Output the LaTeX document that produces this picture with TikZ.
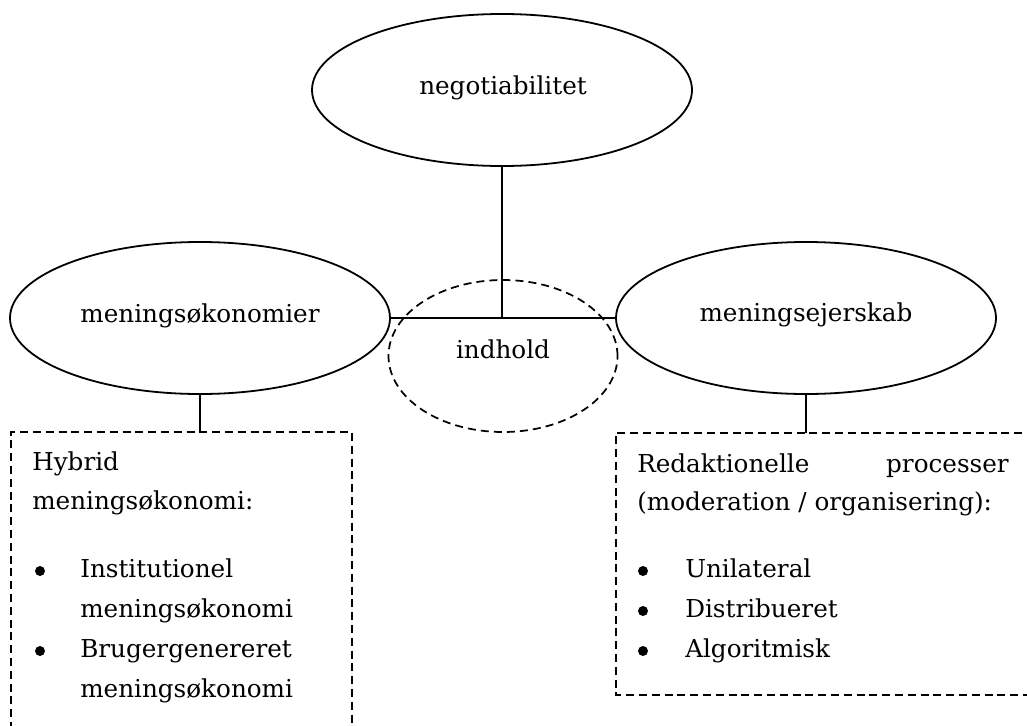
\documentclass[tikz,border=0pt]{standalone}
\usepackage{fontspec}
\setmainfont{DejaVu Serif}
\usetikzlibrary{shapes.geometric}
\tikzset{
  oval/.style={ellipse, draw, line width=1.35pt, inner sep=0pt, minimum width=285pt, minimum height=114pt},
  dashoval/.style={ellipse, draw, line width=1.3pt, inner sep=0pt, dash pattern=on 6pt off 3.8pt, minimum width=171.75pt, minimum height=114pt},
  conn/.style={line width=1.35pt},
  dbox/.style={line width=1.4pt, dash pattern=on 6pt off 3.6pt},
  lbl/.style={anchor=base, inner sep=0pt, font=\fontsize{18.5}{22}\selectfont},
  txt/.style={anchor=base west, inner sep=0pt, font=\fontsize{18.5}{22}\selectfont},
  txtr/.style={anchor=base east, inner sep=0pt, font=\fontsize{18.5}{22}\selectfont},
}
\begin{document}
\begin{tikzpicture}[x=0.75pt,y=-0.75pt]
\useasboundingbox (0,0) rectangle (1027,725);
% ellipses
\node[oval] (top) at (502,90) {};
\node[oval] (left) at (200,318) {};
\node[oval] (right) at (806,318) {};
\node[dashoval] (ind) at (503,356) {};
\node[lbl] (ttop) at (503,94) {negotiabilitet};
\node[lbl] (tleft) at (200,322) {meningsøkonomier};
\node[lbl] (tright) at (806,321) {meningsejerskab};
\node[lbl] (tind) at (503,358) {indhold};
% connectors
\coordinate (junc) at (502,318);
\draw[conn] (left.east) -- (right.west);
\draw[conn] (top.south) -- (junc);
% boxes
\coordinate (lbtop) at (200,432);
\coordinate (rbtop) at (806,433);
\draw[dbox] (11,730) -- (11,432) -- (352,432) -- (352,730);
\draw[dbox] (1035,433) -- (616,433) -- (616,695) -- (1035,695);
\draw[conn] (left.south) -- (lbtop);
\draw[conn] (right.south) -- (rbtop);
% left box text
\node[txt] (h1) at (32,470) {Hybrid};
\node[txt] (h2) at (32,509) {meningsøkonomi:};
\node[txt] (l1) at (80,577) {Institutionel};
\node[txt] (l2) at (80,617) {meningsøkonomi};
\node[txt] (l3) at (80,657) {Brugergenereret};
\node[txt] (l4) at (80,697) {meningsøkonomi};
\fill (40,571) circle (5);
\fill (40,651) circle (5);
% right box text
\node[txt] (r1a) at (637,472) {Redaktionelle};
\node[txtr] (r1b) at (1009,472) {processer};
\node[txt] (r2) at (637,510) {(moderation / organisering):};
\node[txt] (r3) at (685,577) {Unilateral};
\node[txt] (r4) at (685,617) {Distribueret};
\node[txt] (r5) at (685,657) {Algoritmisk};
\fill (643,571) circle (5);
\fill (643,611) circle (5);
\fill (643,651) circle (5);
\end{tikzpicture}
\end{document}
